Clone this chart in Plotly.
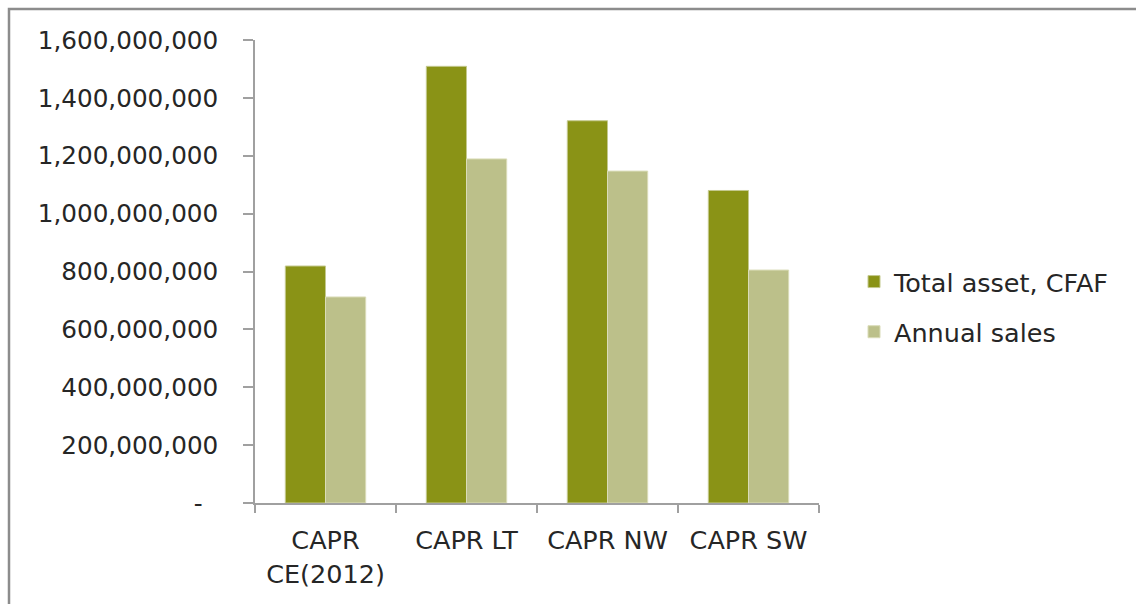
import plotly.graph_objects as go

categories = ["CAPR<br>CE(2012)", "CAPR LT", "CAPR NW", "CAPR SW"]
total_asset = [819000000, 1509000000, 1321000000, 1080000000]
annual_sales = [712000000, 1189000000, 1147000000, 805000000]
tick_vals = [0, 200000000, 400000000, 600000000, 800000000, 1000000000,
             1200000000, 1400000000, 1600000000]
tick_text = ["-\u00a0\u00a0", "200,000,000", "400,000,000", "600,000,000", "800,000,000",
             "1,000,000,000", "1,200,000,000", "1,400,000,000", "1,600,000,000"]

FONT = "DejaVu Sans"
W, H = 1136, 604
L, R, T, B = 255, 317, 40, 101
pw = W - L - R
ph = H - T - B

fig = go.Figure()
fig.add_trace(go.Bar(x=categories, y=total_asset, name="Total asset, CFAF",
                     legendgroup="a",
                     marker=dict(color="#8A9316", line=dict(color="#C4C98E", width=1))))
fig.add_trace(go.Bar(x=categories, y=annual_sales, name="Annual sales",
                     legendgroup="b",
                     marker=dict(color="#BCC08A", line=dict(color="#DADCB8", width=1))))

fig.update_layout(
    width=W, height=H,
    margin=dict(l=L, r=R, t=T, b=B, pad=0),
    paper_bgcolor="white", plot_bgcolor="white",
    barmode="group", bargap=0.43, bargroupgap=0,
    font=dict(family=FONT, size=24, color="#262626"),
    showlegend=True,
    legend=dict(x=(854 - L) / pw, y=(H - B - 307) / ph, xanchor="left", yanchor="middle",
                font=dict(family=FONT, size=25.5, color="#262626"),
                tracegroupgap=14, bgcolor="rgba(0,0,0,0)"),
    xaxis=dict(showline=True, linecolor="#A0A0A0", linewidth=1.5,
               ticks="outside", tickson="boundaries", ticklen=8, tickcolor="#A0A0A0",
               tickwidth=1.5, showgrid=False, ticklabelstandoff=14,
               tickfont=dict(family=FONT, size=25.5, color="#262626")),
    yaxis=dict(range=[0, 1600000000], tickvals=tick_vals, ticktext=tick_text,
               showline=True, linecolor="#A0A0A0", linewidth=1.5,
               ticks="outside", ticklen=10, tickcolor="#A0A0A0", tickwidth=1.5,
               showgrid=False, zeroline=False, ticklabelstandoff=20,
               tickfont=dict(family=FONT, size=24.7, color="#262626")),
    shapes=[dict(type="rect", xref="paper", yref="paper",
                 x0=(9 - L) / pw, x1=3, y0=-3, y1=(H - B - 9) / ph,
                 line=dict(color="#8C8C8C", width=2.5), fillcolor="rgba(0,0,0,0)")],
)

fig.write_html("out.html")
